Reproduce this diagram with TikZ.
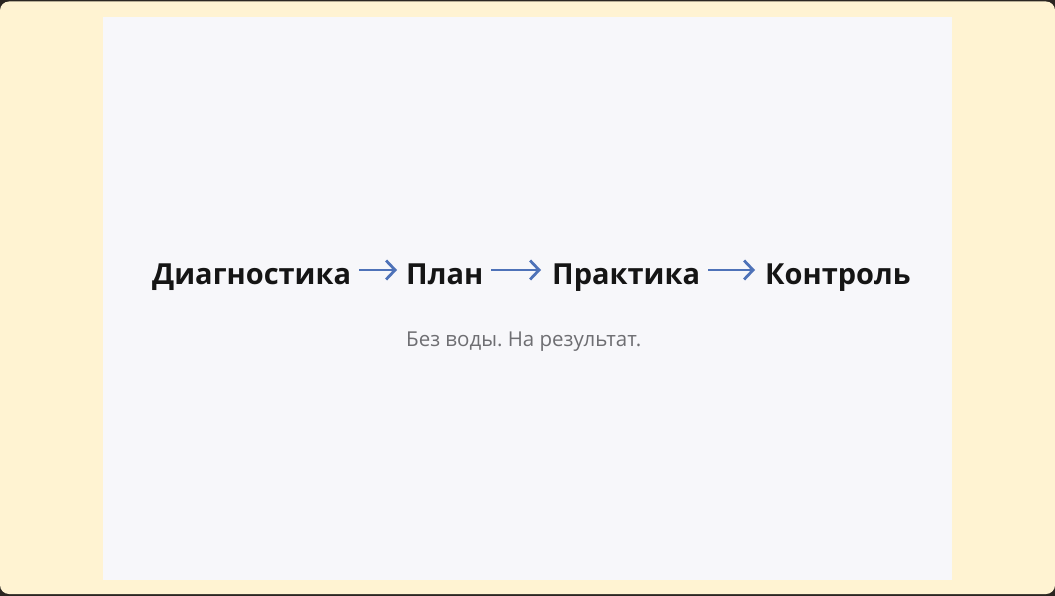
\documentclass[tikz,border=0pt]{standalone}
\usepackage{fontspec}
\setmainfont{Open Sans}
\usetikzlibrary{arrows.meta}
\definecolor{frame}{HTML}{2B2621}
\definecolor{cream}{HTML}{FFF3D2}
\definecolor{panel}{HTML}{F7F7FA}
\definecolor{ink}{HTML}{151515}
\definecolor{arrowblue}{HTML}{4E72B8}
\definecolor{subgray}{HTML}{6E6E72}
\tikzset{
  step label/.style={anchor=base west, inner sep=0pt, text=ink,
    font=\fontsize{29}{34}\selectfont\bfseries},
  flow/.style={draw=arrowblue, line width=2.8pt,
    -{Straight Barb[length=9pt,width=19pt,line width=2.8pt]}},
  sub label/.style={anchor=base west, inner sep=0pt, text=subgray,
    font=\fontsize{20.5}{24}\selectfont}
}
\begin{document}
\frenchspacing
\begin{tikzpicture}[x=1pt,y=-1pt]
\useasboundingbox (0,0) rectangle (1055,596);
\fill[frame] (0,0) rectangle (1055,596);
\fill[cream, rounded corners=9pt] (0,1.5) rectangle (1055,594);
\fill[panel] (103,17) rectangle (952,580);
\node[step label] (d) at (152,284) {Диагностика};
\node[step label] (p) at (406,284) {План};
\node[step label] (r) at (552,284) {Практика};
\node[step label] (k) at (765,284) {Контроль};
\draw[flow] ([xshift=8pt,yshift=14pt]d.base east) -- ([xshift=-9pt,yshift=14pt]p.base west);
\draw[flow] ([xshift=8pt,yshift=14pt]p.base east) -- ([xshift=-11pt,yshift=14pt]r.base west);
\draw[flow] ([xshift=8pt,yshift=14pt]r.base east) -- ([xshift=-10pt,yshift=14pt]k.base west);
\node[sub label] (s) at (406,346) {Без воды. На результат.};
\end{tikzpicture}
\end{document}
